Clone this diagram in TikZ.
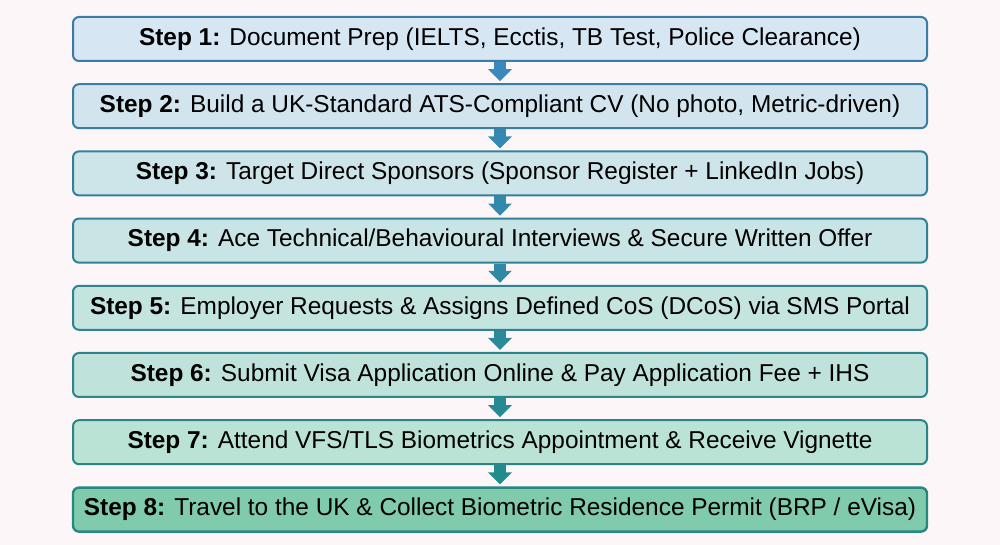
\documentclass[tikz,border=0pt]{standalone}
\usepackage{fontspec}
\setmainfont{Liberation Sans}
\usepackage{xcolor}
\usetikzlibrary{positioning,arrows.meta}
\definecolor{bg}{HTML}{FCF6F8}
\definecolor{fillA}{HTML}{D6E6F3}
\definecolor{fillB}{HTML}{B6E2D1}
\definecolor{fillLast}{HTML}{80CBAB}
\definecolor{lineA}{HTML}{3A7CA8}
\definecolor{lineB}{HTML}{26887F}
\definecolor{arrowA}{HTML}{3A88BC}
\definecolor{arrowB}{HTML}{1E8B84}
\tikzset{
    step-box/.style = {draw=lineA!#1!lineB, fill=fillA!#1!fillB, line width=1pt, rectangle, rounded corners=3pt,
        minimum width=427pt, minimum height=22pt, inner sep=0pt, font=\fontsize{12.2}{14}\selectfont},
    step-arrow/.style = {draw=arrowA!#1!arrowB, line width=6pt, shorten >=1pt,
        -{Triangle[width=11.5pt,length=6pt]}},
}

\begin{document}
\begin{tikzpicture}
\fill[bg] (0,0) rectangle (500pt,272.5pt);
\useasboundingbox (0,0) rectangle (500pt,272.5pt);
% the eight steps
\node[step-box=100] (s1) at (250pt,253pt) {\textbf{Step 1:} Document Prep (IELTS, Ecctis, TB Test, Police Clearance)};
\node[step-box=86, below=10.6pt of s1] (s2) {\textbf{Step 2:} Build a UK-Standard ATS-Compliant CV (No photo, Metric-driven)};
\node[step-box=71, below=10.6pt of s2] (s3) {\textbf{Step 3:} Target Direct Sponsors (Sponsor Register + LinkedIn Jobs)};
\node[step-box=57, below=10.6pt of s3] (s4) {\textbf{Step 4:} Ace Technical/Behavioural Interviews \& Secure Written Offer};
\node[step-box=43, below=10.6pt of s4] (s5) {\textbf{Step 5:} Employer Requests \& Assigns Defined CoS (DCoS) via SMS Portal};
\node[step-box=29, below=10.6pt of s5] (s6) {\textbf{Step 6:} Submit Visa Application Online \& Pay Application Fee + IHS};
\node[step-box=14, below=10.6pt of s6] (s7) {\textbf{Step 7:} Attend VFS/TLS Biometrics Appointment \& Receive Vignette};
\node[step-box=0, fill=fillLast, line width=1.2pt, below=10.6pt of s7] (s8) {\textbf{Step 8:} Travel to the UK \& Collect Biometric Residence Permit (BRP / eVisa)};
% arrows between them
\draw[step-arrow=100] (s1.south) -- (s2.north);
\draw[step-arrow=86] (s2.south) -- (s3.north);
\draw[step-arrow=71] (s3.south) -- (s4.north);
\draw[step-arrow=57] (s4.south) -- (s5.north);
\draw[step-arrow=43] (s5.south) -- (s6.north);
\draw[step-arrow=29] (s6.south) -- (s7.north);
\draw[step-arrow=14] (s7.south) -- (s8.north);
\end{tikzpicture}
\end{document}
